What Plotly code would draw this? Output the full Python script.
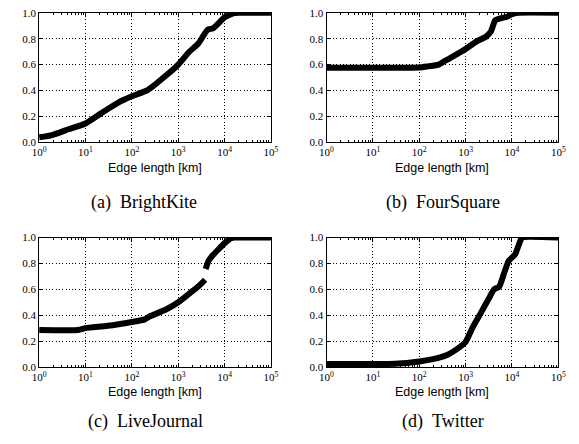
import plotly.graph_objects as go

# ---- data ----
bk_x = [1, 1.9, 4.3, 10, 22, 53, 100, 224, 545, 1000, 1690, 2740, 4300, 5600, 7900, 10000, 16000, 20000, 100000]
bk_y = [0.038, 0.055, 0.10, 0.145, 0.225, 0.31, 0.355, 0.405, 0.515, 0.60, 0.695, 0.765, 0.87, 0.88, 0.93, 0.965, 0.997, 1.0, 1.0]

fs_x = [1, 10, 100, 150, 265, 365, 550, 1000, 1690, 2740, 3470, 3900, 4300, 5600, 7900, 10000, 13800, 100000]
fs_y = [0.576, 0.576, 0.578, 0.586, 0.60, 0.63, 0.665, 0.72, 0.777, 0.815, 0.852, 0.90, 0.94, 0.957, 0.97, 0.99, 1.0, 1.0]

lj_x = [1, 7, 10, 30, 100, 190, 240, 545, 1000, 1690, 2740, 3800, None, 3900, 4500, 5600, 7900, 10000, 13800, 16000, 100000]
lj_y = [0.286, 0.286, 0.30, 0.318, 0.348, 0.368, 0.39, 0.444, 0.50, 0.564, 0.624, 0.674, None, 0.757, 0.82, 0.865, 0.92, 0.957, 0.995, 1.0, 1.0]

tw_x = [1, 10, 30, 100, 210, 400, 650, 1000, 1420, 2150, 3180, 4100, 5300, 6700, 8500, 11700, 14900, 16500, 100000]
tw_y = [0.023, 0.023, 0.025, 0.043, 0.063, 0.093, 0.138, 0.193, 0.306, 0.42, 0.53, 0.60, 0.62, 0.72, 0.82, 0.87, 0.97, 1.0, 1.0]

x_tickvals = [1, 10, 100, 1000, 10000, 100000]
x_ticktext = ["10<sup>0</sup>", "10<sup>1</sup>", "10<sup>2</sup>", "10<sup>3</sup>", "10<sup>4</sup>", "10<sup>5</sup>"]
x_minor_vals = [m * 10 ** d for d in range(5) for m in range(2, 10)]
y_tickvals = [0.0, 0.2, 0.4, 0.6, 0.8, 1.0]
y_ticktext = ["0.0", "0.2", "0.4", "0.6", "0.8", "1.0"]

captions = ["(a)&nbsp;&nbsp;BrightKite", "(b)&nbsp;&nbsp;FourSquare",
            "(c)&nbsp;&nbsp;LiveJournal", "(d)&nbsp;&nbsp;Twitter"]
xlabel = "Edge length [km]"

series = [(bk_x, bk_y), (fs_x, fs_y), (lj_x, lj_y), (tw_x, tw_y)]

W, H = 579, 444
# plot-area pixel boxes: (left, right, top, bottom)
boxes = [(33, 271, 7, 140), (328, 566, 7, 140), (33, 271, 238, 371), (328, 566, 238, 371)]
cap_pos = [(141, 202), (448, 202), (142, 427), (448, 427)]

fig = go.Figure()
serif = "Liberation Serif, Times New Roman, serif"
sans = "Liberation Sans, Arial, sans-serif"

for i, ((xs, ys), (l, r, t, b)) in enumerate(zip(series, boxes)):
    n = "" if i == 0 else str(i + 1)
    fig.add_trace(go.Scatter(x=xs, y=ys, mode="lines",
                             line=dict(color="black", width=6, shape="spline", smoothing=0.5),
                             connectgaps=False, showlegend=False, hoverinfo="skip",
                             xaxis="x" + n, yaxis="y" + n))
    common = dict(showline=True, linecolor="black", linewidth=1, mirror="ticks",
                  ticks="inside", tickcolor="black", ticklen=4,
                  showgrid=True, gridcolor="black", griddash="1px,2.3px", gridwidth=1,
                  zeroline=False, tickfont=dict(family=serif, size=11, color="black"))
    fig.update_layout(**{
        "xaxis" + n: dict(type="log", range=[0, 5], domain=[l / W, r / W],
                          anchor="y" + n, tickvals=x_tickvals, ticktext=x_ticktext,
                          minor=dict(tickmode="array", tickvals=x_minor_vals, ticks="inside",
                                     ticklen=2, tickcolor="black", showgrid=False),
                          **common),
        "yaxis" + n: dict(range=[0, 1], domain=[1 - b / H, 1 - t / H],
                          anchor="x" + n, tickvals=y_tickvals, ticktext=y_ticktext,
                          **common),
    })
    fig.add_annotation(x=(l + r) / 2 / W, y=1 - (b + 26) / H,
                       xref="paper", yref="paper", text=xlabel, showarrow=False,
                       font=dict(family=sans, size=12.5, color="black"),
                       xanchor="center", yanchor="middle")
    cx, cy = cap_pos[i]
    fig.add_annotation(x=cx / W, y=1 - cy / H, xref="paper", yref="paper",
                       text=captions[i], showarrow=False,
                       font=dict(family=serif, size=18, color="black"),
                       xanchor="center", yanchor="middle")

fig.update_layout(width=W, height=H, margin=dict(l=0, r=0, t=0, b=0),
                  paper_bgcolor="white", plot_bgcolor="white", hovermode=False)

fig.write_html("out.html", config={"displayModeBar": False, "staticPlot": True},
               post_script="document.body.style.margin='0';document.body.style.overflow='hidden';")
